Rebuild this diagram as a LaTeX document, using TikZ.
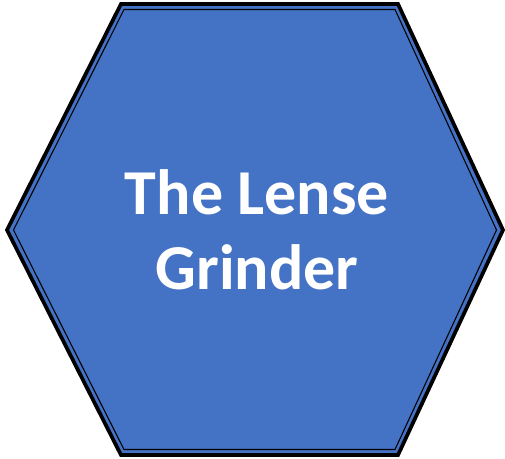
\documentclass[tikz,border=0pt]{standalone}
\usepackage{fontspec}
\setmainfont{Carlito}
\usetikzlibrary{positioning}
\definecolor{HexBlue}{RGB}{68,114,196}

\begin{document}
\begin{tikzpicture}[x=0.75pt,y=-0.75pt]
\useasboundingbox (0,0) rectangle (505,458);
% outer hexagon
\draw[fill=HexBlue,draw=black,line width=2.8pt,line join=miter]
  (121,4) -- (398,4) -- (503,230) -- (398,455) -- (121,455) -- (7,230) -- cycle;
% inner line
\draw[draw=black,line width=0.8pt]
  (124,9.5) -- (395,9.5) -- (496.5,230) -- (395,449.5) -- (124,449.5) -- (13.5,230) -- cycle;
\node[text=white,font=\fontsize{48}{56}\selectfont\bfseries,align=center] (title) at (257,230) {The Lense\\Grinder};
\end{tikzpicture}
\end{document}
